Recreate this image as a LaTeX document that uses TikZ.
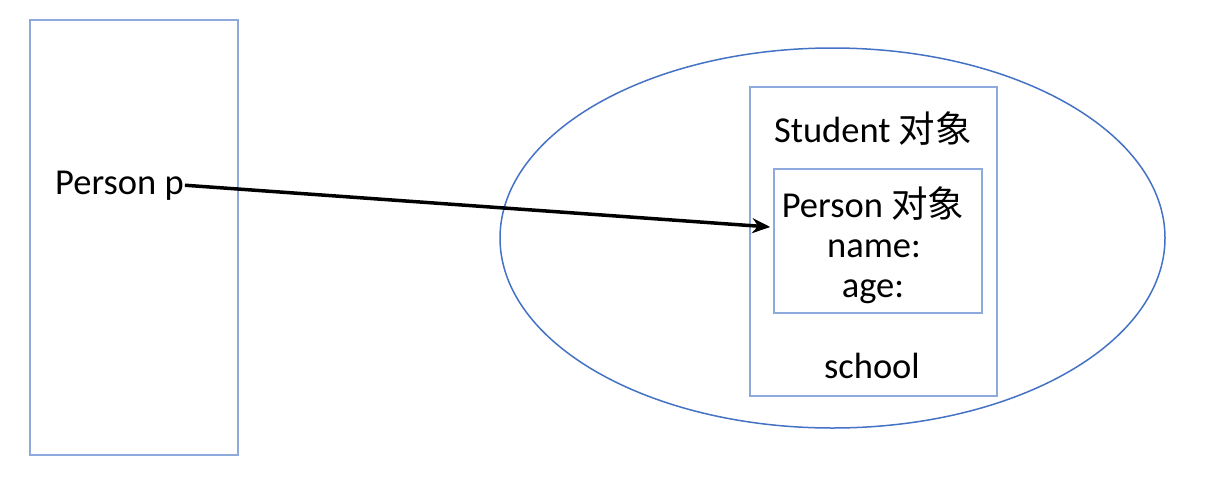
\documentclass[tikz,border=0pt]{standalone}
\usepackage{fontspec}
\setmainfont{Carlito}
\newfontfamily\cjk{Noto Sans CJK SC}
\usetikzlibrary{arrows.meta}
\definecolor{bl}{HTML}{4472C4}
\definecolor{lbl}{HTML}{8EA9DB}
\tikzset{
  frame/.style={draw=lbl, line width=1.5pt},
  lbl/.style={font=\fontsize{36.5}{42}\selectfont, inner sep=1pt, anchor=base},
}
\begin{document}
\begin{tikzpicture}[x=1pt,y=-1pt]
\useasboundingbox (0,0) rectangle (1205,483);
\node[frame, minimum width=208pt, minimum height=435pt, inner sep=0pt] (stack) at (134,237.5) {};
\draw[draw=bl, line width=1.5pt] (832.5,238) ellipse [x radius=332.5, y radius=190];
\node[frame, minimum width=247pt, minimum height=309pt, inner sep=0pt] (stud) at (873.5,241.5) {};
\node[frame, minimum width=208pt, minimum height=144pt, inner sep=0pt] (inner) at (878,241) {};
\node[lbl, anchor=base west] (pp) at (54,194) {Person p};
\node[lbl] (st) at (873,142) {Student {\cjk 对象}};
\node[lbl] (po) at (873,217) {Person {\cjk 对象}};
\node[lbl] (nm) at (874,257) {name:};
\node[lbl] (ag) at (873,297) {age:};
\node[lbl] (sc) at (872,378) {school};
\draw[line width=3.5pt, -{Stealth[length=18pt,width=15pt]}] (pp.east) -- ([yshift=14pt,xshift=-3pt]inner.west);
\end{tikzpicture}
\end{document}
